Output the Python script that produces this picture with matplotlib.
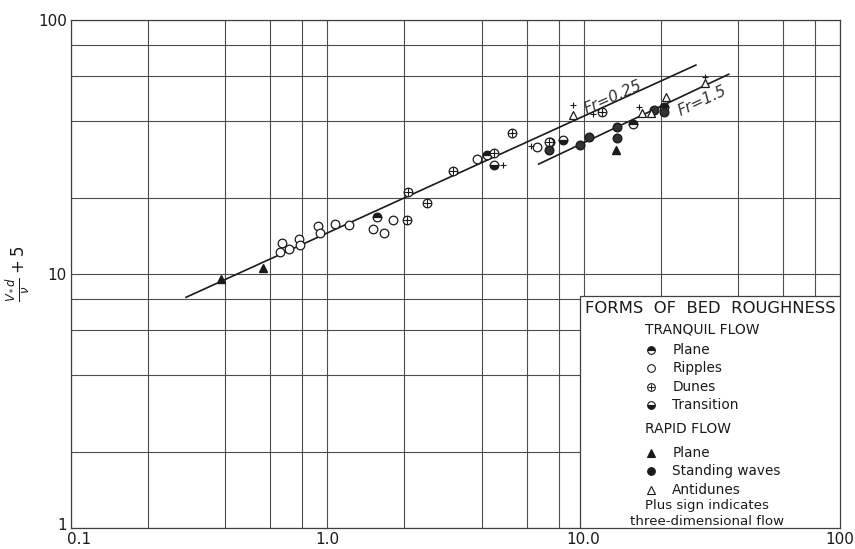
import numpy as np
import matplotlib
matplotlib.use("Agg")
import matplotlib.pyplot as plt
import matplotlib.transforms as mtransforms
from matplotlib.patches import Rectangle
from matplotlib.lines import Line2D

# ---- data ----
ripple_x = [0.665, 0.655, 0.71, 0.773, 0.78, 0.92, 0.94, 1.07, 1.21, 1.51, 1.66, 1.81, 3.84, 6.55]
ripple_y = [13.3, 12.2, 12.6, 13.7, 13.0, 15.5, 14.5, 15.8, 15.6, 15.1, 14.5, 16.3, 28.3, 31.7]

tplane_x = [1.56, 4.2, 7.4, 15.6, 20.6]
tplane_y = [16.8, 29.5, 33.2, 39.0, 45.6]

dunes_x = [2.05, 2.07, 2.45, 3.1, 4.45, 5.27, 7.3, 11.8]
dunes_y = [16.4, 21.0, 19.0, 25.4, 30.0, 35.8, 33.0, 43.6]

transition_x = [4.46, 8.3]
transition_y = [26.8, 33.7]

rplane_x = [0.385, 0.56, 13.4]
rplane_y = [9.6, 10.6, 30.7]

standing_x = [7.3, 9.7, 10.5, 13.5, 13.5, 18.8, 20.6]
standing_y = [30.8, 32.2, 34.6, 38.0, 34.2, 44.2, 43.6]

antidune_x = [9.1, 16.9, 18.3, 21.0, 29.8]
antidune_y = [42.3, 42.9, 43.0, 50.0, 56.3]

plus_x = [9.1, 4.85, 10.9, 6.25, 29.8, 16.4]
plus_y = [46.5, 27.0, 42.5, 32.0, 59.5, 45.5]

# Froude number lines (end points)
fr025_x = [0.281, 27.4]
fr025_y = [8.1, 66.5]
fr15_x = [6.67, 36.8]
fr15_y = [27.1, 61.2]

grid_vals = [0.1, 0.2, 0.4, 0.6, 0.8, 1, 2, 4, 6, 8, 10, 20, 40, 60, 80, 100]
ygrid_vals = [1, 2, 4, 6, 8, 10, 20, 40, 60, 80, 100]

plt.rcParams["font.family"] = ["DejaVu Sans"]
ink = "#1a1a1a"

fig = plt.figure(figsize=(8.55, 5.49), dpi=100)
ax = fig.add_axes([0.083, 0.038, 0.8995, 0.9255])
ax.set_xscale("log")
ax.set_yscale("log")
ax.set_xlim(0.1, 100)
ax.set_ylim(1, 100)

for g in grid_vals:
    ax.axvline(g, color="0.3", lw=0.8, zorder=1)
for g in ygrid_vals:
    ax.axhline(g, color="0.3", lw=0.8, zorder=1)

ax.set_xticks([0.1, 1, 10, 100])
ax.set_xticklabels(["0.1", "1.0", "10.0", "100"])
ax.set_yticks([1, 10, 100])
ax.set_yticklabels(["1", "10", "100"])
ax.xaxis.set_minor_locator(matplotlib.ticker.NullLocator())
ax.yaxis.set_minor_locator(matplotlib.ticker.NullLocator())
ax.tick_params(length=0, labelsize=11, colors=ink, pad=3)
for s in ax.spines.values():
    s.set_color("0.25")
    s.set_linewidth(0.9)

# nudge corner labels apart so "1" and "0.1" do not collide
fig.canvas.draw()
xl = ax.get_xticklabels()[0]
xl.set_transform(xl.get_transform() + mtransforms.ScaledTranslation(6 / 72, 0, fig.dpi_scale_trans))
yl = ax.get_yticklabels()[0]
yl.set_transform(yl.get_transform() + mtransforms.ScaledTranslation(0, 3 / 72, fig.dpi_scale_trans))

ax.set_ylabel(r"$\frac{V_* d}{\nu}+5$", fontsize=12, color=ink, labelpad=4)

# lines
ax.plot(fr025_x, fr025_y, color=ink, lw=1.2, zorder=3)
ax.plot(fr15_x, fr15_y, color=ink, lw=1.2, zorder=3)
ax.text(13.0, 49.8, "Fr=0.25", rotation=24, fontsize=11, color="#333",
        ha="center", va="center", style="italic", zorder=4)
ax.text(28.9, 48.0, "Fr=1.5", rotation=25, fontsize=11, color="#333",
        ha="center", va="center", style="italic", zorder=4)

ms = 6.2
kw = dict(color=ink, markeredgecolor=ink, markersize=ms, linestyle="none", zorder=5)
ax.plot(ripple_x, ripple_y, marker="o", markerfacecolor="white", markeredgewidth=0.9, **kw)
ax.plot(tplane_x, tplane_y, marker="o", fillstyle="top", markerfacecoloralt="white",
        markeredgewidth=0.9, **kw)
ax.plot(transition_x, transition_y, marker="o", fillstyle="bottom", markerfacecoloralt="white",
        markeredgewidth=0.9, **kw)
ax.plot(dunes_x, dunes_y, marker="o", markerfacecolor="white", markeredgewidth=0.9, **kw)
ax.plot(dunes_x, dunes_y, marker="+", markersize=ms - 1, markeredgewidth=0.8,
        color=ink, linestyle="none", zorder=6)
ax.plot(rplane_x, rplane_y, marker="^", markerfacecolor=ink, **kw)
ax.plot(standing_x, standing_y, marker="o", markerfacecolor="#333", **kw)
ax.plot(antidune_x, antidune_y, marker="^", markerfacecolor="white", markeredgewidth=0.9, **kw)
ax.plot(plus_x, plus_y, marker="+", markersize=5, markeredgewidth=0.8,
        color=ink, linestyle="none", zorder=6)

# legend box
tr = ax.transAxes
ax.add_patch(Rectangle((0.662, 0.0), 0.338, 0.457, transform=tr, facecolor="white",
                       edgecolor="0.25", lw=0.9, zorder=7))
ax.text(0.668, 0.433, "FORMS  OF  BED  ROUGHNESS", transform=tr, fontsize=11.8,
        color=ink, va="center", ha="left", zorder=8)
ax.text(0.746, 0.39, "TRANQUIL FLOW", transform=tr, fontsize=10,
        color=ink, va="center", ha="left", zorder=8)
ax.text(0.746, 0.195, "RAPID FLOW", transform=tr, fontsize=10,
        color=ink, va="center", ha="left", zorder=8)

leg_rows = [
    (0.350, "Plane", dict(marker="o", fillstyle="top", markerfacecoloralt="white", markerfacecolor=ink)),
    (0.315, "Ripples", dict(marker="o", markerfacecolor="white")),
    (0.278, "Dunes", dict(marker="o", markerfacecolor="white")),
    (0.242, "Transition", dict(marker="o", fillstyle="bottom", markerfacecoloralt="white", markerfacecolor=ink)),
    (0.148, "Plane", dict(marker="^", markerfacecolor=ink)),
    (0.112, "Standing waves", dict(marker="o", markerfacecolor=ink)),
    (0.075, "Antidunes", dict(marker="^", markerfacecolor="white")),
]
for yy, label, mk in leg_rows:
    ax.add_line(Line2D([0.754], [yy], transform=tr, markersize=5.5, markeredgecolor=ink,
                       markeredgewidth=0.8, linestyle="none", zorder=8, **mk))
    ax.text(0.782, yy, label, transform=tr, fontsize=9.8, color=ink, va="center",
            ha="left", zorder=8)
ax.add_line(Line2D([0.754], [0.278], transform=tr, marker="+", markersize=4.5,
                   markeredgecolor=ink, markeredgewidth=0.7, linestyle="none", zorder=9))
ax.text(0.827, 0.045, "Plus sign indicates", transform=tr, fontsize=9.6, color=ink,
        va="center", ha="center", zorder=8)
ax.text(0.827, 0.014, "three-dimensional flow", transform=tr, fontsize=9.6, color=ink,
        va="center", ha="center", zorder=8)

fig.savefig("out.png", dpi=100)
